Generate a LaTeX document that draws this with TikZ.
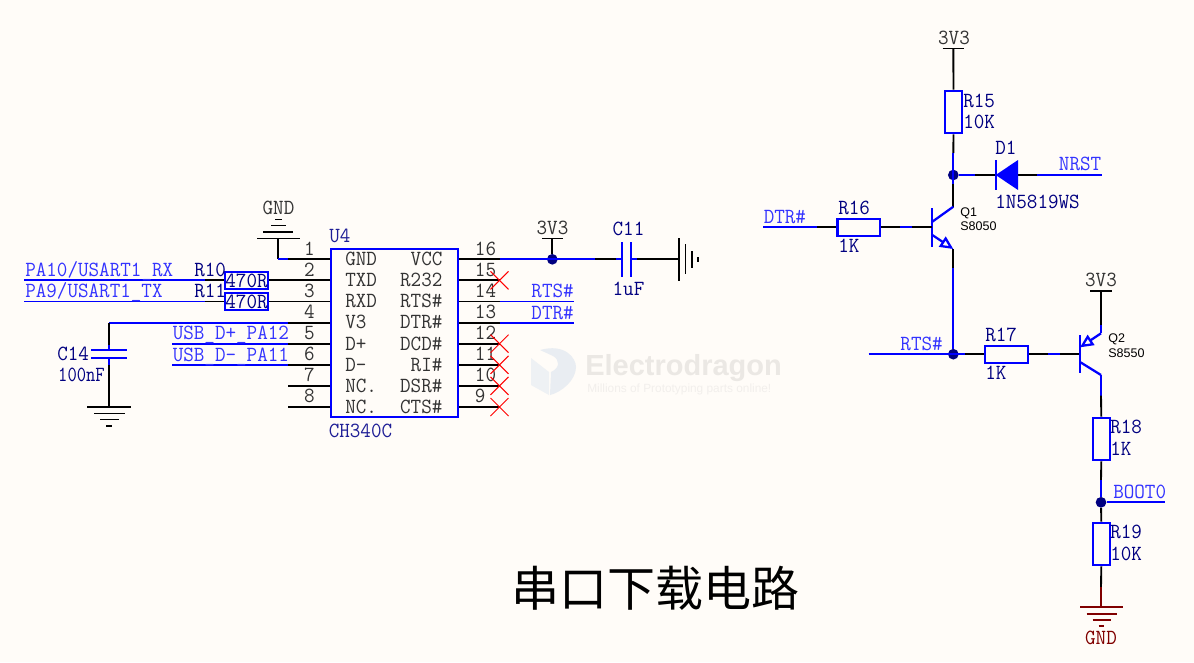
\documentclass[tikz,border=0pt]{standalone}
\usepackage{fontspec}
\newfontfamily\schfont[FakeStretch=0.95]{Latin Modern Mono}
\newfontfamily\cjk{Noto Sans CJK SC}
\setsansfont{Liberation Sans}
\usetikzlibrary{arrows.meta,calc,positioning}
\definecolor{bgc}{HTML}{FFFCF8}
\definecolor{wirec}{HTML}{0000FF}
\definecolor{netc}{HTML}{3333FF}
\definecolor{partc}{HTML}{000080}
\definecolor{pinc}{HTML}{333333}
\definecolor{desc}{HTML}{1E1E96}
\definecolor{gndc}{HTML}{800000}
\definecolor{logoa}{HTML}{EEF1F4}
\definecolor{logob}{HTML}{E9EDF2}
\tikzset{
    x=0.75pt,y=-0.75pt,
    wire/.style ={wirec,line width=1.4pt},
    pin/.style ={black,line width=1.4pt},
    body/.style ={wirec,line width=1.7pt},
    txt/.style ={inner sep=0pt,anchor=base west,font=\schfont\fontsize{16.2}{18}\selectfont},
    part/.style ={txt,text=partc},
    net/.style ={txt,text=netc},
    pinname/.style ={txt,text=pinc},
    refname/.style ={txt,text=desc},
    power/.style ={txt,anchor=base,text=pinc},
    qname/.style ={inner sep=0pt,anchor=base west,font=\sffamily\fontsize{9.4}{11}\selectfont,text=black},
    resh/.style ={draw=wirec,line width=1.7pt,minimum width=31.9pt,minimum height=12.8pt,inner sep=0pt},
    resv/.style ={draw=wirec,line width=1.7pt,minimum width=12.8pt,minimum height=31.9pt,inner sep=0pt},
    junction/.style ={circle,fill=partc,minimum size=8pt,inner sep=0pt},
    qarrow/.style ={-{Triangle[open,length=10pt,width=9pt]}},
    nc/.style ={red,line width=0.75pt}
}

\begin{document}
\begin{tikzpicture}
    \fill[bgc] (0,0) rectangle (1194,662);
    \useasboundingbox (0,0) rectangle (1194,662);

    % watermark
    \fill[logoa] (531,358) -- (531,385) -- (549,395) -- (549,372) -- cycle;
    \fill[logob] (540,350) .. controls (565,343) and (576,358) .. (576,367) .. controls (576,380) and (562,392) .. (550,395) -- (551,372) .. controls (560,368) and (560,360) .. (553,356) -- cycle;
    \node[inner sep=0pt,anchor=base west,font=\sffamily\bfseries\fontsize{21.75}{24}\selectfont,text=black!8!bgc] (mark) at (585,375) {Electrodragon};
    \node[inner sep=0pt,anchor=base west,font=\sffamily\fontsize{8.9}{11}\selectfont,text=black!5!bgc] (marksub) at (587,392.7) {Millions of Prototyping parts online!};

    % CH340C
    \node[draw=wirec,line width=1.7pt,minimum width=95pt,minimum height=126pt,inner sep=0pt] (U4) at (394.3,333) {};
    \node[refname] (U4ref) at (329,242.7) {U4};
    \node[refname] (U4val) at (328.5,437) {CH340C};

    \foreach \n/\yy/\name in {1/259.3/GND,2/280.4/TXD,3/301.5/RXD,4/322.6/V3,5/343.7/D+,6/364.8/D-,7/385.9/NC.,8/407/NC.}{
        \coordinate (PL\n) at (288,\yy);
        \draw[pin] (PL\n) -- (PL\n -| U4.west);
        \node[pinname,anchor=base] (LN\n) at (309.5,\yy-4.3) {\n};
        \node[pinname] (LT\n) at (345,\yy+6.3) {\name};
    }
    \foreach \n/\yy/\name in {16/259.3/VCC,15/280.4/R232,14/301.5/RTS\#,13/322.6/DTR\#,12/343.7/DCD\#,11/364.8/RI\#,10/385.9/DSR\#,9/407/CTS\#}{
        \coordinate (PR\n) at (499.5,\yy);
        \draw[pin] (PR\n -| U4.east) -- (PR\n);
        \node[pinname] (RN\n) at (474.7,\yy-4.3) {\n};
        \node[pinname,anchor=base east] (RT\n) at (442.7,\yy+6.3) {\name};
    }
    % no connects
    \foreach \n in {15,12,11,10,9}{
        \draw[nc] ($(PR\n)+(-9,-9)$) -- ($(PR\n)+(9,9)$);
        \draw[nc] ($(PR\n)+(-9,9)$) -- ($(PR\n)+(9,-9)$);
    }

    % left side
    \coordinate (G1) at (278,238.3);
    \coordinate (G1b) at (278,259.3);
    \draw[pin] (G1) -- (G1b);
    \draw[wire] (G1b) -- (PL1);
    \draw[pin,line width=1.2pt] (257,238.3) -- (300,238.3) (263,232.2) -- (293,232.2) (271,225.4) -- (285.5,225.4) (275,219.5) -- (281.5,219.5);
    \node[power] (G1t) at (278.5,214) {GND};

    \node[resh] (R10) at (246.5,280.4) {};
    \node[resh] (R11) at (246.5,301.5) {};
    \node[part,anchor=center] (R10v) at (R10) {470R};
    \node[part,anchor=center] (R11v) at (R11) {470R};
    \node[part] (R10r) at (194,276) {R10};
    \node[part] (R11r) at (194,297) {R11};
    \coordinate (PA10) at (24,280.4);
    \coordinate (PA9) at (24,301.5);
    \coordinate (PA10m) at (205,280.4);
    \coordinate (PA9m) at (205,301.5);
    \draw[wire] (PA10) -- (PA10m);
    \draw[wire] (PA9) -- (PA9m);
    \draw[pin] (PA10m) -- (R10.west);
    \draw[pin] (PA9m) -- (R11.west);
    \draw[pin] (R10.east) -- (PL2);
    \draw[pin] (R11.east) -- (PL3);
    \node[net] (PA10t) at (25,276.5) {PA10/USART1\_RX};
    \node[net] (PA9t) at (25,297.7) {PA9/USART1\_TX};

    \coordinate (DP) at (172,343.7);
    \coordinate (DM) at (172,364.8);
    \draw[wire] (DP) -- (PL5);
    \draw[wire] (DM) -- (PL6);
    \node[net] (DPt) at (172.5,339.8) {USB\_D+\_PA12};
    \node[net] (DMt) at (172.5,361) {USB\_D-\_PA11};

    % C14
    \coordinate (C14t) at (109,322.6);
    \coordinate (C14a) at (109,345);
    \coordinate (C14p) at (109,350);
    \coordinate (C14q) at (109,358);
    \coordinate (C14b) at (109,365);
    \coordinate (G2) at (109,407);
    \draw[wire] (C14t) -- (PL4);
    \draw[pin] (C14t) -- (C14a);
    \draw[wire] (C14a) -- (C14p);
    \draw[wire] (C14q) -- (C14b);
    \draw[pin] (C14b) -- (G2);
    \draw[body] (91,350) -- (127,350) (91,358) -- (127,358);
    \draw[pin,line width=1.2pt] (87,407) -- (131,407) (94,413.3) -- (125,413.3) (100,419.3) -- (118.5,419.3) (106,425.7) -- (112,425.7);
    \node[part] (C14r) at (57,360) {C14};
    \node[part,xscale=0.88] (C14v) at (58,381.7) {100nF};

    % VCC rail and C11
    \node[junction] (J1) at (552.3,259.3) {};
    \coordinate (P1) at (552.3,238.3);
    \coordinate (C11m) at (595,259.3);
    \coordinate (C11a) at (616,259.3);
    \coordinate (C11p) at (622.3,259.3);
    \coordinate (C11q) at (630.7,259.3);
    \coordinate (C11b) at (637,259.3);
    \coordinate (G3) at (679,259.3);
    \draw[wire] (PR16) -- (C11m);
    \draw[pin] (J1) -- (P1);
    \draw[pin,line width=1.2pt] (542,238.3) -- (563,238.3);
    \draw[pin] (C11m) -- (C11a);
    \draw[wire] (C11a) -- (C11p);
    \draw[wire] (C11q) -- (C11b);
    \draw[pin] (C11b) -- (G3);
    \draw[body] (622.3,242) -- (622.3,277) (630.7,242) -- (630.7,277);
    \draw[pin,line width=1.2pt] (679,238) -- (679,281) (685.3,244) -- (685.3,274) (692,251) -- (692,268) (698,257) -- (698,262);
    \node[power] (P1t) at (552.5,234) {3V3};
    \node[part,anchor=base] (C11r) at (628.5,235.7) {C11};
    \node[part,anchor=base] (C11v) at (628.5,295) {1uF};

    \coordinate (RTSe) at (574,301.5);
    \coordinate (DTRe) at (574,322.6);
    \draw[wire] (PR14) -- (RTSe);
    \draw[wire] (PR13) -- (DTRe);
    \node[net,anchor=base east] (RTSt) at (574,297.7) {RTS\#};
    \node[net,anchor=base east] (DTRt) at (574,319) {DTR\#};

    % Q1 branch
    \coordinate (P2) at (953.3,48.3);
    \node[resv] (R15) at (953.5,112) {};
    \node[junction] (J2) at (953.3,175) {};
    \coordinate (J2a) at (953.3,153);
    \coordinate (J2b) at (953.3,184);
    \coordinate (Q1c) at (953.3,206.7);
    \coordinate (Q1e) at (953.3,249);
    \coordinate (Q1w) at (953.3,268);
    \coordinate (Q1b) at (932.3,227.3);
    \coordinate (Q1bt) at (932.3,208.3);
    \coordinate (Q1bb) at (932.3,246.7);
    \node[junction] (J3) at (953.3,354.2) {};
    \draw[pin] (P2) -- (R15.north);
    \draw[pin,line width=1.2pt] (942.7,48.3) -- (964.3,48.3);
    \draw[pin] (R15.south) -- (J2a);
    \draw[wire] (J2a) -- (J2b);
    \draw[pin] (J2b) -- (Q1c);
    \draw[body] (Q1bt) -- (Q1bb);
    \draw[body] (Q1b |- 0,221.7) -- (Q1c);
    \draw[body,qarrow] (Q1b |- 0,235) -- (Q1e);
    \draw[pin] (Q1e) -- (Q1w);
    \draw[wire] (Q1w) -- (J3);
    \node[power] (P2t) at (954,44) {3V3};
    \node[part] (R15r) at (963,107) {R15};
    \node[part] (R15v) at (963,128) {10K};
    \node[qname] (Q1r) at (960,216) {Q1};
    \node[qname] (Q1v) at (960,230.7) {S8050};

    % D1
    \coordinate (D1k) at (995.7,175);
    \coordinate (D1a) at (1018,175);
    \coordinate (D1m) at (975,175);
    \coordinate (NRm) at (1037,175);
    \coordinate (NRe) at (1102,175);
    \draw[wire] (J2) -- (D1m);
    \draw[pin] (D1m) -- (D1k);
    \draw[pin] (D1a) -- (NRm);
    \draw[wire] (NRm) -- (NRe);
    \fill[wirec] (D1k) -- (1018,160) -- (1018,190) -- cycle;
    \draw[body] (995.7,160) -- (995.7,190);
    \node[part] (D1r) at (995,154) {D1};
    \node[part] (D1v) at (995,208) {1N5819WS};
    \node[net,anchor=base east] (NRt) at (1101.5,170.7) {NRST};

    % R16
    \node[resh] (R16) at (858.7,227.3) {};
    \coordinate (DTRs) at (763,227.3);
    \coordinate (DTRm) at (817,227.3);
    \coordinate (B1a) at (900,227.3);
    \coordinate (B1b) at (912,227.3);
    \draw[wire] (DTRs) -- (DTRm);
    \draw[pin] (DTRm) -- (R16.west);
    \draw[pin] (R16.east) -- (B1a);
    \draw[wire] (B1a) -- (B1b);
    \draw[pin] (B1b) -- (Q1b);
    \node[part] (R16r) at (838,214.3) {R16};
    \node[part] (R16v) at (838,252.7) {1K};
    \node[net] (DTRl) at (763.5,223.3) {DTR\#};

    % Q2 branch
    \coordinate (RTSs) at (868.5,354.2);
    \coordinate (J3a) at (965,354.2);
    \node[resh] (R17) at (1006.4,354.2) {};
    \coordinate (B2a) at (1048,354.2);
    \coordinate (B2b) at (1060,354.2);
    \coordinate (Q2b) at (1080,354.2);
    \coordinate (Q2e) at (1101,333.3);
    \coordinate (Q2c) at (1101,375);
    \coordinate (P3) at (1101,291);
    \coordinate (Q2m) at (1101,325);
    \coordinate (Q2w) at (1101,395.7);
    \draw[wire] (RTSs) -- (J3a);
    \draw[pin] (J3a) -- (R17.west);
    \draw[pin] (R17.east) -- (B2a);
    \draw[wire] (B2a) -- (B2b);
    \draw[pin] (B2b) -- (Q2b);
    \draw[body] (Q2b |- 0,335) -- (Q2b |- 0,373.3);
    \draw[body,qarrow] (Q2e) -- (Q2b |- 0,347.3);
    \draw[body] (Q2b |- 0,362) -- (Q2c);
    \draw[pin] (P3) -- (Q2m);
    \draw[wire] (Q2m) -- (Q2e);
    \draw[pin,line width=1.2pt] (1090,291) -- (1112,291);
    \node[power] (P3t) at (1101,286.7) {3V3};
    \node[net,anchor=base east] (RTSl) at (943,350) {RTS\#};
    \node[part] (R17r) at (985,341) {R17};
    \node[part] (R17v) at (985,379.3) {1K};
    \node[qname] (Q2r) at (1108,342.7) {Q2};
    \node[qname] (Q2v) at (1108,357.3) {S8550};

    \node[resv] (R18) at (1101.3,439) {};
    \node[junction] (J4) at (1101,502.3) {};
    \coordinate (J4a) at (1101,480);
    \coordinate (BOe) at (1165,502.3);
    \node[resv] (R19) at (1101.3,544) {};
    \coordinate (G4m) at (1101,587);
    \coordinate (G4) at (1101,607);
    \draw[wire] (Q2c) -- (Q2w);
    \draw[pin] (Q2w) -- (R18.north);
    \draw[pin] (R18.south) -- (J4a);
    \draw[wire] (J4a) -- (J4);
    \draw[wire] (J4) -- (BOe);
    \draw[pin] (J4) -- (R19.north);
    \draw[pin] (R19.south) -- (G4m);
    \draw[gndc,line width=1.4pt] (G4m) -- (G4);
    \draw[gndc,line width=1.2pt] (1080,607) -- (1122.7,607) (1086.7,613.7) -- (1116.7,613.7) (1092.5,620) -- (1110.5,620) (1098.5,626) -- (1104,626);
    \node[part] (R18r) at (1110,433) {R18};
    \node[part] (R18v) at (1110,455) {1K};
    \node[part] (R19r) at (1110,538) {R19};
    \node[part] (R19v) at (1110,560) {10K};
    \node[net] (BOt) at (1113,498.3) {BOOT0};
    \node[txt,anchor=base,text=gndc] (G4t) at (1101,644) {GND};

    % title
    \node[inner sep=0pt,anchor=base,font=\cjk\fontsize{36}{40}\selectfont] (title) at (655,606.5) {串口下载电路};
\end{tikzpicture}
\end{document}
